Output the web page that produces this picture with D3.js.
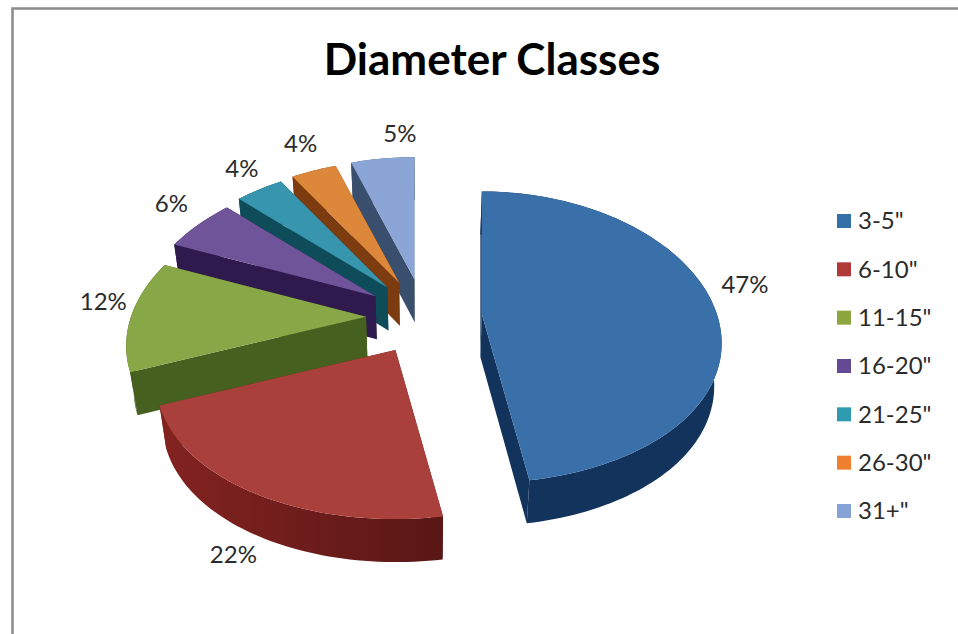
<!DOCTYPE html>
<html>
<head>
<meta charset="utf-8">
<script src="https://cdn.jsdelivr.net/npm/d3@7"></script>
<style>
html,body{margin:0;padding:0;background:#fff;}
svg{display:block;}
text{font-family:Lato,"Open Sans",sans-serif;fill:#2b2b2b;}
</style>
</head>
<body>
<div id="chart"></div>
<script>
const categories = ['3-5"', '6-10"', '11-15"', '16-20"', '21-25"', '26-30"', '31+"'];
const percents = [47.4, 21.6, 12.3, 5.9, 3.9, 3.7, 5.2];
const topColors = ["#3a70aa", "#aa403c", "#88a746", "#70549a", "#3795ad", "#dc873a", "#8ba6d6"];
const sideColors = ["#12345c", "#6a1c1a", "#46601f", "#2e1a4c", "#0f4c5a", "#7c3c10", "#3a4e6e"];
const legendColors = ["#3470a8", "#b03a38", "#8ca63f", "#644a92", "#2e9bb0", "#ee8030", "#84a2d6"];
const titleText = "Diameter Classes";

const W = 958, H = 634;
const cx = 424, cy = 317, Rx = 235, Ry = 142, explodeX = 58, explodeY = 38, depth = 43;
const persX = 0.2, persY = 0.16, wallTaper = 0.025;
const labelRadius = 1.12, labelLift = -16;
const labelNudge = [[5, 0], [-5, 17], [0, 2], [-6, 4], [-2, 7], [-3, 2], [21, 6]];

const svg = d3.select("#chart").append("svg").attr("width", W).attr("height", H);
const defs = svg.append("defs");

// frame: only the top and left edges show
svg.append("path")
  .attr("d", `M12.5,634V8.5H958`)
  .attr("fill", "none").attr("stroke", "#8a8a8a").attr("stroke-width", 2.5);

svg.append("text").attr("x", 492).attr("y", 75).attr("text-anchor", "middle")
  .attr("font-size", 44).attr("font-weight", 700).style("fill", "#000").text(titleText);

const pie = d3.pie().sort(null).value(d => d);
const arcs = pie(percents).map((d, i) => {
  const mid = (d.startAngle + d.endAngle) / 2;
  return {i, start: d.startAngle, end: d.endAngle, mid,
    ax: cx + explodeX * Math.sin(mid), ay: cy - explodeY * Math.cos(mid)};
});

function rim(s, a, r = 1) {
  const c = Math.cos(a);
  return [s.ax + r * Rx * Math.sin(a) / (1 + persX * c),
          s.ay - r * Ry * c / (1 + persY * c)];
}
const line = d3.line();
function arcPoints(s) {
  const n = Math.max(12, Math.round((s.end - s.start) * 40));
  return d3.range(n + 1).map(k => rim(s, s.start + (s.end - s.start) * k / n));
}
const down = p => [p[0] + (cx - p[0]) * wallTaper, p[1] + depth];

// back-to-front painter order
const order = arcs.slice().sort((a, b) => a.ay - b.ay);
const g = svg.append("g");
order.forEach(s => {
  const pts = arcPoints(s);
  const apex = [s.ax, s.ay];
  const xs = pts.map(p => p[0]);
  const gid = "side" + s.i;
  const grad = defs.append("linearGradient").attr("id", gid)
    .attr("gradientUnits", "userSpaceOnUse")
    .attr("x1", d3.min(xs)).attr("x2", d3.max(xs)).attr("y1", 0).attr("y2", 0);
  const base = d3.color(sideColors[s.i]);
  const leftCol = s.i === 1 ? base.brighter(0.6) : base;
  const rightCol = s.i === 1 ? base.darker(0.5) : base;
  grad.append("stop").attr("offset", 0).attr("stop-color", leftCol.formatHex());
  grad.append("stop").attr("offset", 1).attr("stop-color", rightCol.formatHex());

  const sel = g.append("g");
  const wall = (a, b) => sel.append("path")
    .attr("d", line([a, b, down(b), down(a)]) + "Z").attr("fill", `url(#${gid})`);
  wall(apex, pts[0]);
  wall(apex, pts[pts.length - 1]);
  sel.append("path")
    .attr("d", line(pts.concat(pts.slice().reverse().map(down))) + "Z")
    .attr("fill", `url(#${gid})`);
  sel.append("path")
    .attr("d", line([apex].concat(pts)) + "Z")
    .attr("fill", topColors[s.i]);
});

// data labels
arcs.forEach(s => {
  const p = rim(s, s.mid, labelRadius);
  const lower = Math.cos(s.mid) < 0 ? depth : 0;
  svg.append("text")
    .attr("x", p[0] + labelNudge[s.i][0])
    .attr("y", p[1] + lower + labelLift + labelNudge[s.i][1])
    .attr("dy", "0.35em").attr("text-anchor", "middle")
    .attr("font-size", 24).text(Math.round(percents[s.i]) + "%");
});

// legend
const legendY = d3.scalePoint().domain(categories).range([221, 511]);
const legend = svg.append("g").selectAll("g").data(categories).join("g")
  .attr("transform", d => `translate(837,${legendY(d)})`);
legend.append("rect").attr("x", 0).attr("y", -7).attr("width", 14).attr("height", 14)
  .attr("fill", (d, i) => legendColors[i]);
legend.append("text").attr("x", 21).attr("dy", "0.35em").attr("font-size", 24).text(d => d);
</script>
</body>
</html>
